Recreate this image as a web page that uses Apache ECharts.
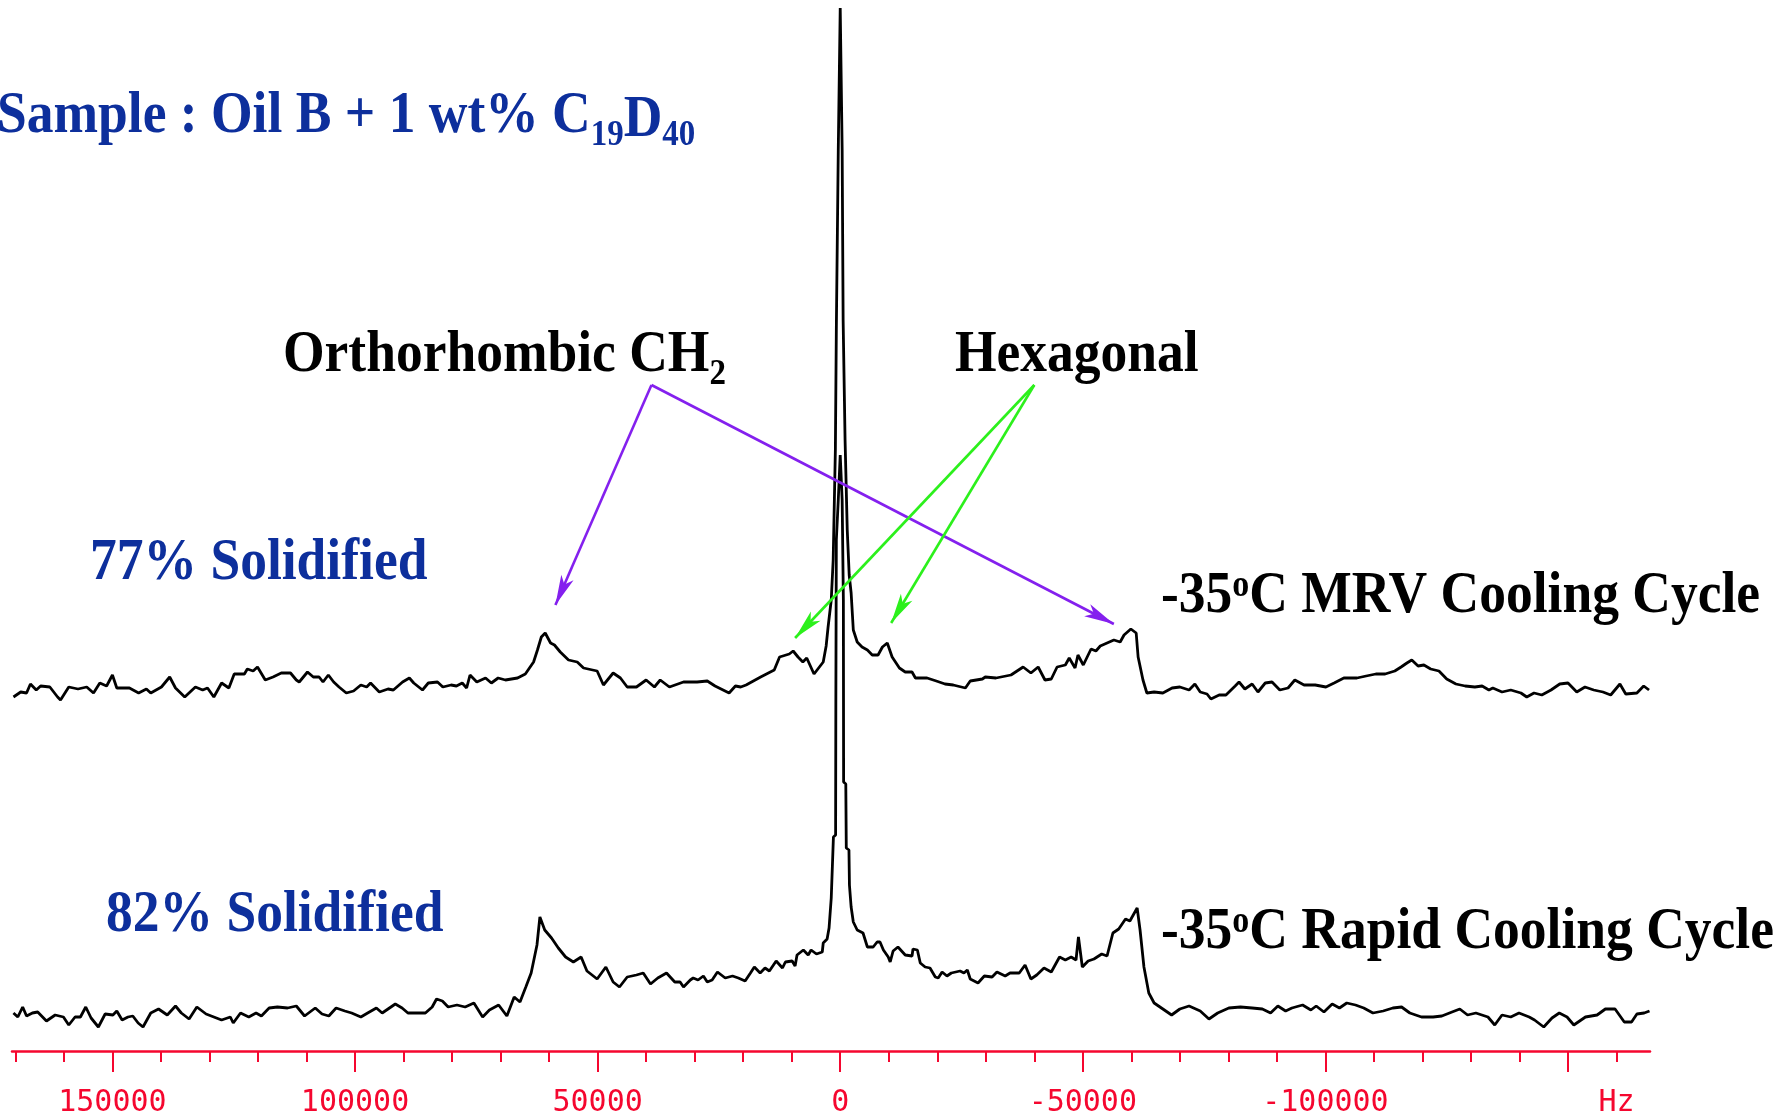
<!DOCTYPE html>
<html>
<head>
<meta charset="utf-8">
<title>Oil B + 1 wt% C19D40</title>
<script src="https://cdn.jsdelivr.net/npm/echarts@6.0.0/dist/echarts.min.js"></script>
<style>
  html, body { margin: 0; padding: 0; background: #fff; }
  #chart { width: 1791px; height: 1119px; }
</style>
</head>
<body>
<div id="chart"></div>
<script>
// -35oC MRV cooling cycle (upper trace), frequency in Hz, intensity in a.u.
var mrvHz = [
  170400, 168900, 167700, 166900, 165700, 164800, 162900, 161300, 160700, 159000, 157100, 155300,
  153900, 152600, 151200, 150000, 149100, 146500, 144600, 143000, 142100, 139900, 138200, 137000,
  135100, 132900, 131400, 130400, 129100, 127500, 126000, 124900, 122800, 122200, 121000, 120100,
  118500, 116900, 115200, 113300, 112100, 111500, 109800, 108600, 107400, 106600, 105500, 104400,
  103300, 101800, 100300, 98800, 97600, 96800, 95000, 93200, 92100, 90200, 88800, 87900,
  86100, 84900, 83000, 81900, 80200, 79100, 77900, 77000, 76300, 74900, 73100, 71900,
  70500, 69000, 66500, 64900, 63200, 62400, 61600, 60800, 59700, 58900, 57700, 56000,
  54200, 52900, 50100, 48800, 46800, 45300, 43900, 42000, 40000, 38300, 37100, 35200,
  32300, 29500, 27400, 25800, 22900, 21600, 20500, 19400, 16400, 13600, 12500, 10500,
  9700, 8700, 7700, 6900, 5400, 3500, 2900, 2500, 1850, 1450, 1000, 800,
  400, 0, -400, -600, -1000, -1450, -1850, -2250, -2700, -3500, -4500, -5600,
  -6600, -7800, -8700, -9700, -10700, -12200, -13400, -14800, -15500, -17900, -19800, -21600,
  -23300, -25800, -26800, -29300, -29900, -32100, -35200, -37700, -39300, -40800, -42200, -43500,
  -44700, -46400, -47200, -48400, -49000, -50100, -51700, -52700, -53600, -55000, -56400, -57700,
  -58500, -59900, -61000, -61400, -62400, -63200, -64700, -66500, -68400, -70000, -71900, -73100,
  -74200, -75600, -76400, -78100, -79500, -81400, -82200, -83400, -84900, -86100, -87600, -89000,
  -90600, -92300, -93700, -95600, -97900, -100100, -101800, -103800, -106500, -108400, -110400, -112300,
  -114300, -115600, -116800, -117800, -119100, -120300, -121700, -123400, -125000, -126900, -128800, -130800,
  -132300, -133700, -134500, -136400, -138200, -140300, -141500, -143000, -144600, -146500, -148300, -150000,
  -151800, -153500, -155300, -157200, -158800, -160700, -161900, -164200, -165600, -166700
];
var mrvInt = [
  23, 28, 27, 36, 30, 34, 33, 23, 20, 33, 31, 33,
  27, 37, 34, 45, 32, 32, 27, 31, 27, 33, 43, 32,
  23, 33, 30, 32, 23, 37, 32, 46, 46, 51, 49, 53,
  40, 43, 47, 47, 40, 38, 48, 43, 43, 38, 45, 38,
  33, 27, 29, 35, 33, 37, 28, 31, 30, 38, 42, 37,
  30, 37, 38, 33, 35, 34, 37, 32, 45, 38, 42, 37,
  42, 40, 42, 46, 58, 70, 83, 87, 77, 75, 68, 60,
  58, 52, 49, 35, 47, 42, 33, 33, 40, 33, 40, 33,
  38, 38, 39, 34, 27, 34, 33, 35, 43, 50, 63, 66,
  69, 63, 58, 62, 46, 58, 74, 93, 120, 160, 270, 390,
  570, 712, 570, 400, 280, 190, 145, 127, 90, 78, 73, 70,
  65, 65, 73, 77, 63, 52, 48, 48, 42, 42, 39, 36,
  35, 32, 39, 41, 43, 42, 45, 53, 47, 53, 40, 41,
  53, 55, 62, 52, 65, 55, 71, 69, 74, 77, 80, 78,
  85, 91, 87, 63, 40, 27, 28, 27, 32, 33, 30, 36,
  28, 26, 21, 25, 25, 34, 38, 31, 36, 28, 37, 38,
  30, 32, 40, 35, 35, 33, 37, 42, 42, 44, 46, 46,
  49, 53, 57, 60, 54, 55, 51, 49, 41, 36, 34, 33,
  34, 30, 32, 28, 30, 27, 23, 27, 25, 30, 36, 37,
  28, 33, 30, 28, 25, 36, 26, 27, 34, 30
];

// -35oC rapid cooling cycle (lower trace)
var rapidHz = [
  170400, 169500, 168500, 167700, 166500, 165400, 163600, 161800, 160100, 159000, 157700, 156600,
  155500, 154400, 152900, 151500, 149900, 149100, 148000, 146800, 145800, 144700, 143700, 142100,
  140500, 138700, 137000, 135800, 134200, 132600, 130700, 129100, 127500, 125700, 125100, 123600,
  121900, 120400, 119300, 117700, 116000, 113900, 112100, 110400, 108200, 106800, 105400, 103900,
  102100, 100700, 98800, 97400, 95600, 94400, 93200, 91700, 90300, 89100, 85500, 84100,
  83200, 82000, 80800, 79000, 77300, 75500, 73700, 72300, 70400, 68700, 67200, 66000,
  64800, 63700, 62500, 61900, 60900, 59500, 58100, 56600, 55000, 53400, 52200, 50100,
  48300, 46800, 45500, 43900, 42000, 40600, 39100, 37600, 35800, 34100, 33000, 32300,
  30900, 30300, 29300, 28200, 27400, 26400, 25300, 23700, 22200, 21000, 19600, 18500,
  17700, 16500, 15500, 14600, 13200, 11900, 11300, 9900, 9300, 8900, 7600, 6600,
  6000, 4900, 3700, 3500, 2700, 2300, 1850, 1450, 1400, 950, 900, 800,
  400, 0, -400, -650, -700, -1150, -1250, -1800, -1900, -2250, -2700, -3500,
  -4700, -5600, -6800, -7600, -8200, -8900, -9900, -10300, -10900, -11900, -13400, -14800,
  -15000, -15900, -16500, -17500, -18500, -19600, -20200, -21000, -22000, -22900, -24700, -25500,
  -26200, -26800, -28400, -29700, -31300, -32300, -34000, -35000, -36900, -38100, -39300, -40500,
  -42000, -43500, -45200, -46400, -47600, -48600, -49100, -49900, -51100, -52300, -53900, -55000,
  -56200, -57400, -58800, -59700, -61200, -61800, -62600, -63600, -64700, -66500, -68300, -70000,
  -71900, -74200, -76000, -77800, -80100, -82500, -84900, -87000, -88700, -90200, -91800, -93100,
  -95300, -97000, -98100, -99700, -101400, -102900, -104400, -106200, -107900, -109800, -111900, -113900,
  -115700, -117400, -119800, -122200, -124000, -126100, -127700, -129300, -131000, -133500, -134900, -136400,
  -138200, -139900, -142000, -143100, -145000, -146700, -148200, -149800, -151200, -153600, -156000, -157700,
  -159700, -161600, -163100, -164200, -165700, -166800
];
var rapidInt = [
  38, 34, 44, 35, 38, 39, 30, 36, 34, 26, 34, 34,
  44, 33, 24, 37, 36, 40, 31, 34, 35, 28, 24, 38,
  42, 36, 45, 38, 32, 44, 37, 34, 31, 34, 28, 38,
  34, 38, 35, 43, 44, 43, 45, 35, 43, 37, 35, 43,
  40, 38, 34, 38, 43, 38, 42, 47, 43, 38, 38, 44,
  52, 50, 44, 46, 44, 48, 34, 41, 46, 35, 54, 49,
  64, 78, 106, 134, 121, 113, 103, 94, 89, 94, 80, 72,
  84, 69, 64, 74, 76, 78, 67, 73, 78, 69, 69, 64,
  71, 73, 71, 75, 69, 71, 79, 73, 75, 73, 70, 78,
  84, 78, 83, 80, 90, 83, 89, 90, 85, 96, 101, 96,
  101, 97, 99, 108, 112, 123, 153, 155, 214, 216, 351, 511,
  551, 596, 551, 451, 269, 267, 203, 201, 166, 144, 129, 121,
  118, 104, 104, 109, 109, 101, 94, 89, 100, 104, 96, 95,
  102, 101, 88, 84, 83, 74, 73, 79, 75, 78, 80, 78,
  81, 72, 68, 75, 74, 79, 75, 78, 78, 86, 72, 76,
  83, 79, 94, 91, 94, 91, 114, 84, 90, 92, 97, 95,
  118, 122, 132, 130, 143, 121, 84, 58, 48, 42, 36, 42,
  45, 40, 32, 38, 43, 44, 43, 42, 38, 45, 40, 43,
  46, 41, 45, 39, 47, 43, 48, 46, 43, 38, 40, 43,
  44, 38, 34, 34, 35, 39, 42, 36, 38, 34, 26, 36,
  34, 38, 34, 31, 24, 33, 38, 34, 26, 34, 36, 42,
  42, 29, 29, 37, 38, 40
];

// axis ticks and labels (Hz)
var majorTicks = [150000, 100000, 50000, 0, -50000, -100000, -150000];
var minorTicks = [170000, 160000, 140000, 130000, 120000, 110000, 90000, 80000, 70000, 60000, 40000, 30000, 20000, 10000,
  -10000, -20000, -30000, -40000, -60000, -70000, -80000, -90000, -110000, -120000, -130000, -140000, -160000];
var labelValues = [150000, 100000, 50000, 0, -50000, -100000, -160000];
var labelTexts = ["150000", "100000", "50000", "0", "-50000", "-100000", "Hz"];

// arrows: [from, to] as [Hz, intensity] on the upper trace's scale
var orthoArrows = [
  [[38900, 335], [58700, 115]],
  [[38900, 335], [-56400, 96]]
];
var hexArrows = [
  [[-40000, 335], [9300, 82]],
  [[-40000, 335], [-10500, 97]]
];

var red = "#f5072f";
var blue = "#0d2f9c";
var purple = "#8420ee";
var green = "#2cf01c";

function zip(xs, ys) {
  return xs.map(function (x, i) {
    return [x, ys[i]];
  });
}

function arrowData(list, color) {
  return list.map(function (a) {
    return [
      { coord: a[0], lineStyle: { color: color, width: 2.6, type: "solid" } },
      { coord: a[1], lineStyle: { color: color, width: 2.6, type: "solid" }, itemStyle: { color: color } }
    ];
  });
}

var chart = echarts.init(document.getElementById("chart"));

var hzMin = -166900;
var hzMax = 170700;
var textFont = "Liberation Serif";
var fs = 53.5;

function label(x, y, text, color, rich) {
  return {
    type: "text",
    x: x,
    y: y,
    scaleY: 1.1,
    silent: true,
    style: {
      text: text,
      fill: color,
      fontFamily: textFont,
      fontWeight: "bold",
      fontSize: fs,
      textAlign: "left",
      verticalAlign: "middle",
      rich: rich
    }
  };
}

// m: main text, s: subscript, p: superscript, d: slightly dropped letter
function richStyles(color) {
  return {
    m: { fill: color, fontFamily: textFont, fontWeight: "bold", fontSize: fs, lineHeight: 54 },
    d: { fill: color, fontFamily: textFont, fontWeight: "bold", fontSize: fs, lineHeight: 54, padding: [6, 0, 0, 0] },
    s: { fill: color, fontFamily: textFont, fontWeight: "bold", fontSize: 33, lineHeight: 10, padding: [34, 0, 0, 0] },
    p: { fill: color, fontFamily: textFont, fontWeight: "bold", fontSize: 34, lineHeight: 18, verticalAlign: "top" }
  };
}

chart.setOption({
  backgroundColor: "#fff",
  animation: false,
  grid: [
    { left: 12, width: 1638, top: 0, height: 720 },
    { left: 12, width: 1638, top: 331, height: 720 }
  ],
  xAxis: [
    {
      gridIndex: 0, type: "value", inverse: true, min: hzMin, max: hzMax,
      axisLine: { show: false }, axisTick: { show: false }, axisLabel: { show: false }, splitLine: { show: false }
    },
    {
      gridIndex: 1, type: "value", inverse: true, min: hzMin, max: hzMax, position: "bottom",
      axisLine: { show: true, lineStyle: { color: red, width: 2.5 } },
      axisTick: { show: true, inside: false, length: 21, customValues: majorTicks, lineStyle: { color: red, width: 2 } },
      axisLabel: {
        show: true,
        customValues: labelValues,
        margin: 37,
        color: red,
        fontFamily: "DejaVu Sans Mono",
        fontSize: 30,
        formatter: function (v) {
          var i = labelValues.indexOf(v);
          return i >= 0 ? labelTexts[i] : "";
        }
      },
      splitLine: { show: false }
    },
    {
      gridIndex: 1, type: "value", inverse: true, min: hzMin, max: hzMax, position: "bottom",
      axisLine: { show: false },
      axisTick: { show: true, inside: false, length: 11, customValues: minorTicks, lineStyle: { color: red, width: 2 } },
      axisLabel: { show: false },
      splitLine: { show: false }
    }
  ],
  yAxis: [
    { gridIndex: 0, type: "value", min: 0, max: 720, show: false },
    { gridIndex: 1, type: "value", min: 0, max: 720, show: false }
  ],
  series: [
    {
      name: "MRV",
      type: "line",
      xAxisIndex: 0,
      yAxisIndex: 0,
      data: zip(mrvHz, mrvInt),
      showSymbol: false,
      lineStyle: { color: "#000", width: 2.8 },
      silent: true,
      markLine: {
        silent: true,
        symbol: ["none", "arrow"],
        symbolSize: [10, 30],
        label: { show: false },
        data: arrowData(orthoArrows, purple).concat(arrowData(hexArrows, green))
      }
    },
    {
      name: "Rapid",
      type: "line",
      xAxisIndex: 1,
      yAxisIndex: 1,
      data: zip(rapidHz, rapidInt),
      showSymbol: false,
      lineStyle: { color: "#000", width: 2.8 },
      silent: true
    }
  ],
  graphic: [
    label(-3, 117, "{m|Sample : Oil B + 1 wt% C}{s|19}{d|D}{s|40}", blue, richStyles(blue)),
    label(283, 356, "{m|Orthorhombic CH}{s|2}", "#000", richStyles("#000")),
    label(955, 356, "Hexagonal", "#000"),
    label(90, 564, "77% Solidified", blue),
    label(106, 916, "82% Solidified", blue),
    label(1161, 597, "{m|-35}{p|o}{m|C MRV Cooling Cycle}", "#000", richStyles("#000")),
    label(1161, 933, "{m|-35}{p|o}{m|C Rapid Cooling Cycle}", "#000", richStyles("#000"))
  ]
});

window.onresize = chart.resize;
</script>
</body>
</html>
